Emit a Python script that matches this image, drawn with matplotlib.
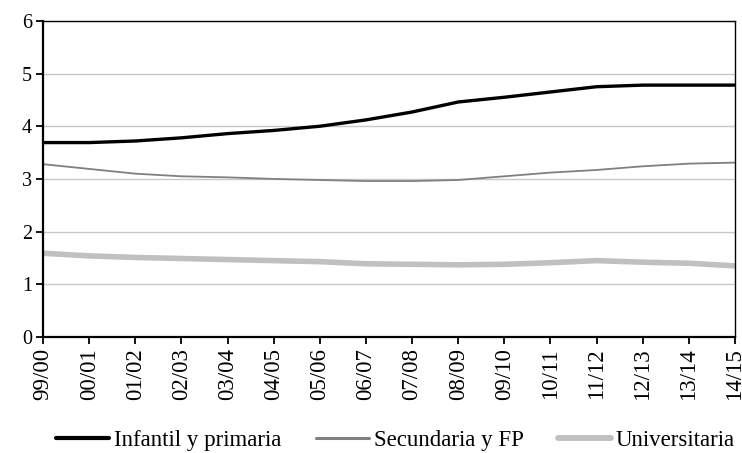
import matplotlib
matplotlib.use("Agg")
import matplotlib.pyplot as plt
from matplotlib.lines import Line2D

categories = ["99/00", "00/01", "01/02", "02/03", "03/04", "04/05", "05/06", "06/07",
              "07/08", "08/09", "09/10", "10/11", "11/12", "12/13", "13/14", "14/15"]
infantil = [3.69, 3.69, 3.72, 3.78, 3.86, 3.92, 4.00, 4.12, 4.27, 4.46, 4.55, 4.65, 4.75, 4.78, 4.78, 4.78]
secundaria = [3.28, 3.19, 3.10, 3.05, 3.03, 3.00, 2.98, 2.96, 2.96, 2.98, 3.05, 3.12, 3.17, 3.24, 3.29, 3.31]
universitaria = [1.59, 1.54, 1.51, 1.49, 1.47, 1.45, 1.43, 1.39, 1.38, 1.37, 1.38, 1.41, 1.45, 1.42, 1.40, 1.35]
series_names = ["Infantil y primaria", "Secundaria y FP", "Universitaria"]
yticks = [0, 1, 2, 3, 4, 5, 6]

plt.rcParams['font.family'] = ['Liberation Serif', 'DejaVu Serif']

fig = plt.figure(figsize=(7.42, 4.53), dpi=100)
ax = fig.add_axes([0.058, 0.256, 0.9326, 0.698])

colors = ['black', '#808080', '#c0c0c0']
widths = [2.4, 1.3, 4.0]
x = list(range(len(categories)))
for vals, c, w in zip([infantil, secundaria, universitaria], colors, widths):
    ax.plot(x, vals, color=c, lw=w, solid_capstyle='butt')

ax.set_xlim(0, len(categories) - 1)
ax.set_ylim(0, 6)
ax.set_yticks(yticks)
ax.set_yticklabels([str(v) for v in yticks], fontsize=14.5)
ax.set_xticks(x)
ax.set_xticklabels(categories, rotation=90, fontsize=16.5)

ax.grid(axis='y', color='#c8c8c8', lw=1.0)
ax.set_axisbelow(True)

ax.spines['left'].set_linewidth(1.6)
ax.spines['bottom'].set_linewidth(1.6)
ax.spines['top'].set_linewidth(1.0)
ax.spines['right'].set_linewidth(1.0)
ax.tick_params(axis='both', direction='out', length=5, width=1.3, colors='black', pad=3)

handles = [Line2D([], [], color=c, lw=w, solid_capstyle='round')
           for c, w in zip(colors, [3.0, 2.2, 4.2])]
fig.legend(handles, series_names, loc='center', bbox_to_anchor=(0.533, 0.028), ncol=3,
           frameon=False, fontsize=16.5, handlelength=2.3, columnspacing=1.5,
           handletextpad=0.22)

fig.savefig('out.png', dpi=100)
